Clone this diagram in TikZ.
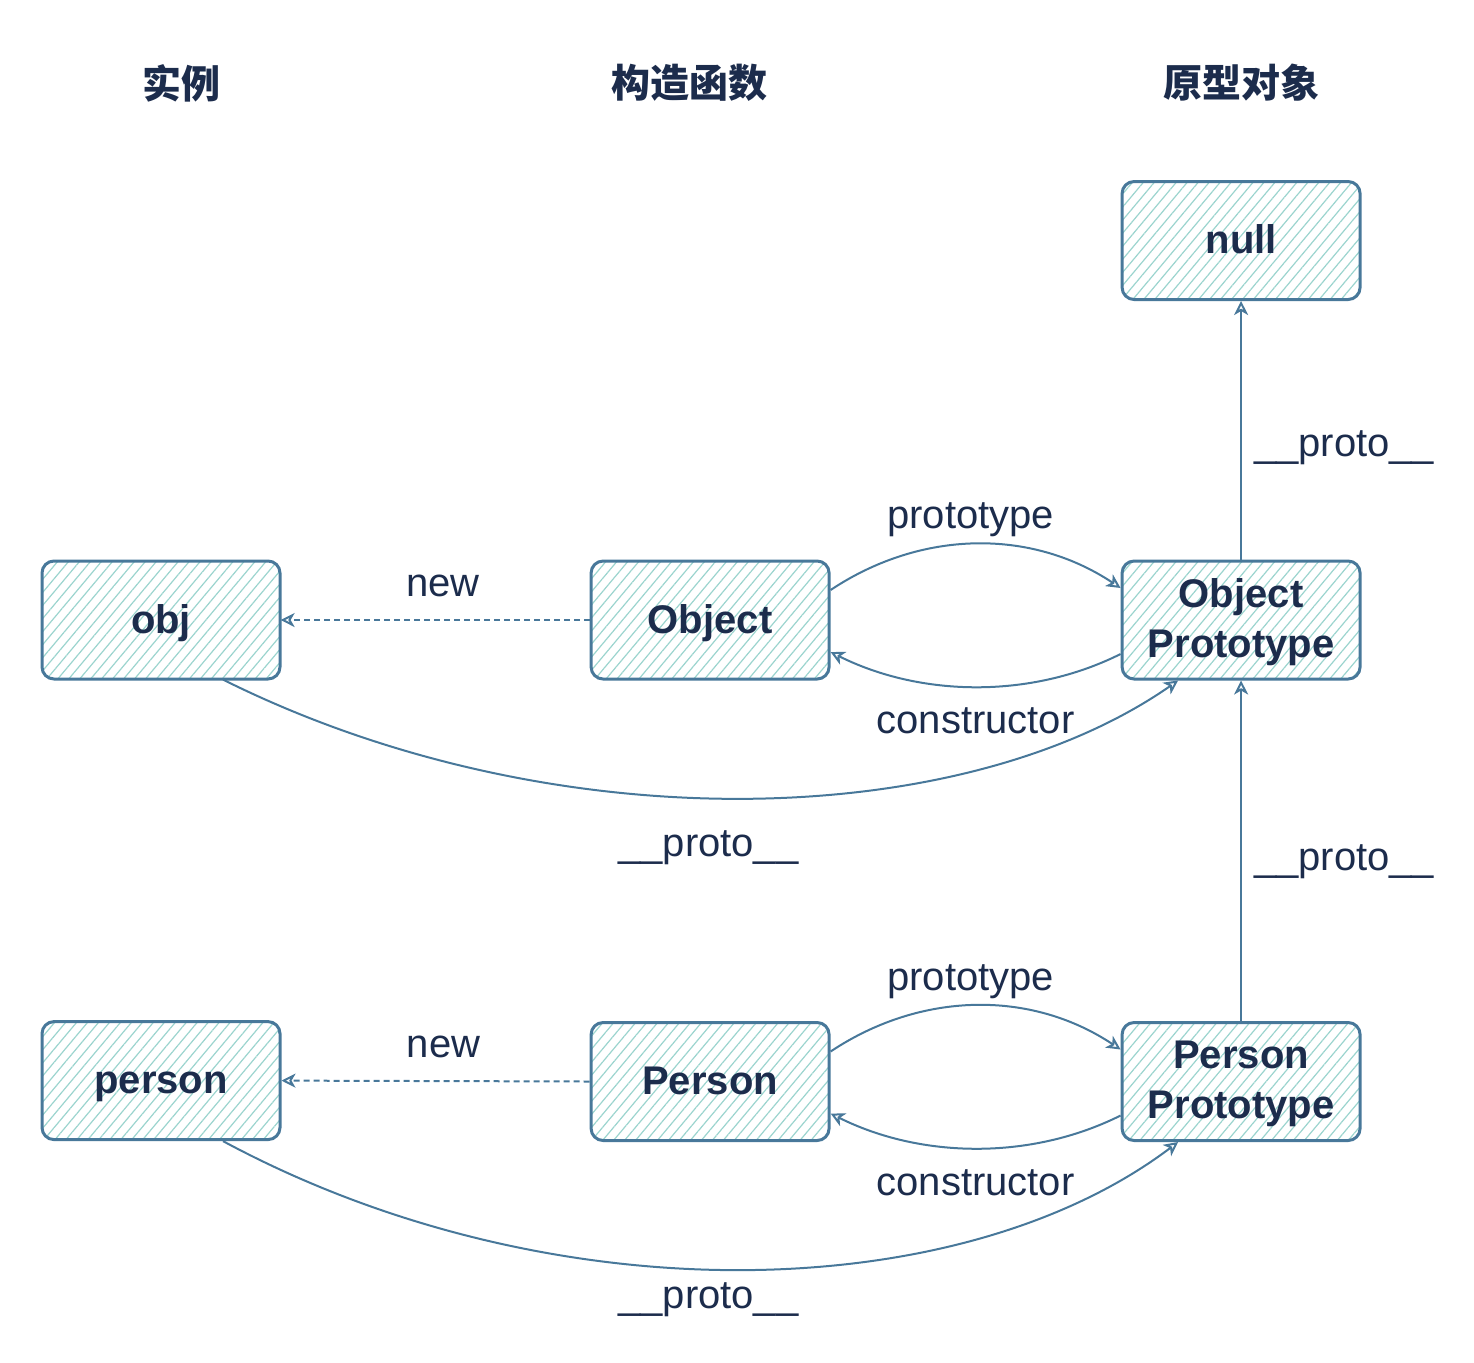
\documentclass[tikz,border=0pt]{standalone}
\usepackage{fontspec}
\setmainfont{Liberation Sans}
\newfontfamily\cjk{Noto Sans CJK SC}
\usetikzlibrary{arrows.meta, positioning, calc, patterns.meta}

\definecolor{edgeblue}{RGB}{72,120,154}
\definecolor{hatchteal}{RGB}{155,212,206}
\definecolor{inkblue}{RGB}{28,44,76}

\begin{document}
\begin{tikzpicture}[
  x=0.5pt, y=-0.5pt,
  box/.style = {draw=edgeblue, line width=1.5pt, rounded corners=6pt,
    minimum width=119pt, minimum height=59pt, inner sep=0pt, align=center,
    font=\fontsize{20}{25}\selectfont\bfseries, text=inkblue,
    text height=16.5pt, text depth=3.5pt,
    pattern={Lines[angle=50,distance=4.2pt,line width=0.6pt]}, pattern color=hatchteal},
  twobox/.style = {box, text depth=29.3pt},
  head/.style = {font=\cjk\fontsize{19.5}{24}\selectfont\bfseries, text=inkblue},
  lbl/.style = {font=\fontsize{20}{24}\selectfont, text=inkblue, inner sep=2pt},
  link/.style = {draw=edgeblue, line width=1pt, -{Stealth[open, length=7pt, width=7pt, inset=2pt]}},
  newlink/.style = {link, dash pattern=on 3pt off 2pt},
  node distance=170.25pt and 154.5pt
]
  \useasboundingbox (0,0) rectangle (1474,1362);

  % Column headings
  \node[head] (h_inst)  at (181,83)  {实例};
  \node[head] (h_ctor)  at (689,83)  {构造函数};
  \node[head] (h_proto) at (1241,83) {原型对象};

  % Object row
  \node[box] (obj) at (161,620) {obj};
  \node[box, right=of obj] (object) {Object};
  \node[twobox, right=145pt of object] (objproto)
    {\begin{tabular}[t]{@{}c@{}}Object\\Prototype\end{tabular}};
  \node[box, above=129.25pt of objproto] (null) {null};

  % Person row
  \node[box, below=of obj] (person) {person};
  \node[box, below=of object] (ctorperson) {Person};
  \node[twobox, below=of objproto] (personproto)
    {\begin{tabular}[t]{@{}c@{}}Person\\Prototype\end{tabular}};

  % new
  \draw[newlink] (object.west) -- node[lbl, midway, above=9pt, xshift=4pt] {new} (obj.east);
  \draw[newlink] (ctorperson.west) -- node[lbl, midway, above=9pt, xshift=4pt] {new} (person.east);

  % prototype / constructor
  \draw[link] ([yshift=15pt]object.east) .. controls +(90,-60) and +(-90,-60) ..
    node[lbl, midway, above=1pt, xshift=-2.5pt] {prototype} ([yshift=16pt]objproto.west);
  \draw[link] ([yshift=-17pt]objproto.west) .. controls +(-90,45) and +(90,45) ..
    node[lbl, midway, below=8pt] {constructor} ([yshift=-16pt]object.east);
  \draw[link] ([yshift=15pt]ctorperson.east) .. controls +(90,-60) and +(-90,-60) ..
    node[lbl, midway, above=1pt, xshift=-2.5pt] {prototype} ([yshift=16pt]personproto.west);
  \draw[link] ([yshift=-17pt]personproto.west) .. controls +(-90,45) and +(90,45) ..
    node[lbl, midway, below=8pt] {constructor} ([yshift=-16pt]ctorperson.east);

  % __proto__ from instances
  \draw[link] ($(obj.south)+(62,0)$) .. controls +(327,163) and +(-218,152) ..
    node[lbl, midway, below=13.5pt, xshift=-16.5pt] {\_\_proto\_\_} ($(objproto.south)+(-63,0)$);
  \draw[link] ($(person.south)+(62,0)$) .. controls +(327,176) and +(-218,165) ..
    node[lbl, midway, below=4pt, xshift=-16.5pt] {\_\_proto\_\_} ($(personproto.south)+(-63,0)$);

  % __proto__ chain
  \draw[link] (objproto.north) -- node[lbl, midway, right=4pt, yshift=-8.5pt] {\_\_proto\_\_} (null.south);
  \draw[link] (personproto.north) -- node[lbl, midway, right=4pt, yshift=-5.5pt] {\_\_proto\_\_} (objproto.south);

\end{tikzpicture}
\end{document}
